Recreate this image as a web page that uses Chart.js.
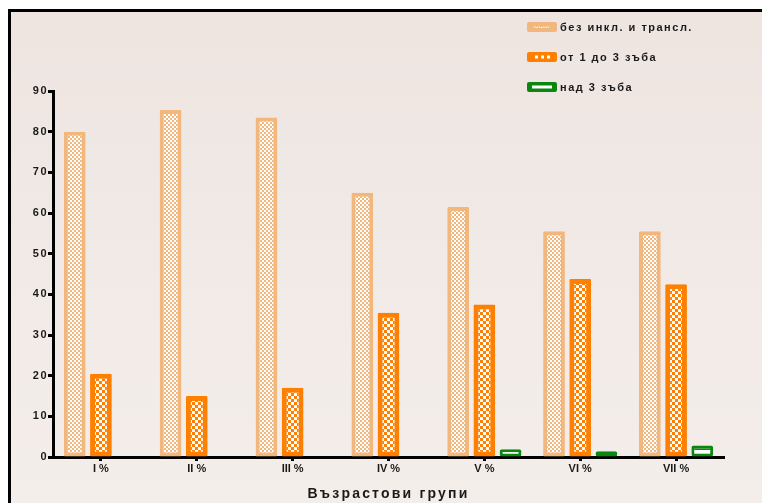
<!DOCTYPE html>
<html>
<head>
<meta charset="utf-8">
<script src="https://cdn.jsdelivr.net/npm/chart.js@4"></script>
<style>
  html, body { margin: 0; padding: 0; background: #fff; }
  #frame {
    position: absolute; left: 8px; top: 9px; width: 753px; height: 494px;
    border-left: 3px solid #000; border-top: 3px solid #000;
    background: linear-gradient(#eee5e1, #f4eeea);
  }
  #wrap { position: absolute; left: 0; top: 0; width: 762px; height: 503px; }
</style>
</head>
<body>
<div id="frame"></div>
<div id="wrap"><canvas id="chart"></canvas></div>
<script>
var categories = ['I %', 'II %', 'III %', 'IV %', 'V %', 'VI %', 'VII %'];
var seriesNames = ['без инкл. и трансл.', 'от 1 до 3 зъба', 'над 3 зъба'];
var bezIncl = [80, 85.3, 83.5, 65, 61.5, 55.5, 55.5];
var ot1do3 = [20.5, 15, 17, 35.5, 37.5, 43.8, 42.5];
var nad3 = [0, 0, 0, 0, 1.9, 1.4, 2.8];
var yTicks = [0, 10, 20, 30, 40, 50, 60, 70, 80, 90];

var peach = '#f2b77c';
var orange = '#ff7f00';
var green = '#0b870f';
var fontFamily = '"Liberation Sans", Arial, sans-serif';

// fill patterns for the bars
function checker(color, size) {
  var c = document.createElement('canvas');
  c.width = size * 2; c.height = size * 2;
  var g = c.getContext('2d');
  g.fillStyle = '#fff';
  g.fillRect(0, 0, size * 2, size * 2);
  g.fillStyle = color;
  g.fillRect(0, 0, size, size);
  g.fillRect(size, size, size, size);
  return g.createPattern(c, 'repeat');
}

function stripes(color) {
  var c = document.createElement('canvas');
  c.width = 4; c.height = 6;
  var g = c.getContext('2d');
  g.fillStyle = '#fff';
  g.fillRect(0, 0, 4, 6);
  g.fillStyle = color;
  g.fillRect(0, 4, 4, 2);
  return g.createPattern(c, 'repeat');
}

var ctx = document.getElementById('chart').getContext('2d');

// letter spacing differs between the y labels, x labels and the axis title
function withSpacing(fn, sp) {
  return function () {
    var prev = this.ctx.letterSpacing;
    this.ctx.letterSpacing = sp;
    var r = fn.apply(this, arguments);
    this.ctx.letterSpacing = prev;
    return r;
  };
}

var spacing = {
  id: 'spacing',
  beforeLayout: function (chart) { chart.ctx.letterSpacing = '0px'; },
  afterLayout: function (chart) {
    var x = chart.scales.x, y = chart.scales.y;
    var proto = Object.getPrototypeOf(x);
    x.drawLabels = withSpacing(proto.drawLabels, '0px');
    x.drawTitle = withSpacing(proto.drawTitle, '2.2px');
    y.drawLabels = withSpacing(Object.getPrototypeOf(y).drawLabels, '1.5px');
  }
};

// vertical legend in the top right corner
var sideLegend = {
  id: 'sideLegend',
  afterDraw: function (chart) {
    var c = chart.ctx;
    var rows = [27, 57, 87];
    c.save();
    c.letterSpacing = '1.5px';
    chart.data.datasets.forEach(function (ds, i) {
      var y = rows[i];
      var x = 527;
      c.fillStyle = ds.borderColor;
      c.beginPath();
      c.roundRect(x, y - 5, 30, 10, 2);
      c.fill();
      c.fillStyle = '#fff';
      if (i === 0) {
        for (var k = 0; k < 7; k++) c.fillRect(x + 7 + k * 2.3, y - 0.5 + (k % 2 ? 0.5 : 0), 1.5, 1);
      } else if (i === 1) {
        c.fillRect(x + 8, y - 1.5, 3, 3);
        c.fillRect(x + 14, y - 1.5, 3, 3);
        c.fillRect(x + 20, y - 1.5, 3, 3);
      } else {
        c.fillRect(x + 5, y - 1.5, 20, 3);
      }
      c.fillStyle = '#1a1a1a';
      c.font = 'bold 11px ' + fontFamily;
      c.textBaseline = 'middle';
      c.fillText(ds.label, 560, y + 0.5);
    });
    c.restore();
  }
};

new Chart(ctx, {
  type: 'bar',
  data: {
    labels: categories,
    datasets: [
      { label: seriesNames[0], data: bezIncl, backgroundColor: checker(peach, 2), borderColor: peach, borderWidth: 4, borderSkipped: false, borderRadius: 1 },
      { label: seriesNames[1], data: ot1do3, backgroundColor: checker(orange, 3), borderColor: orange, borderWidth: 5, borderSkipped: false, borderRadius: 1 },
      { label: seriesNames[2], data: nad3, backgroundColor: stripes(green), borderColor: green, borderWidth: 3, borderSkipped: false, borderRadius: 2 }
    ]
  },
  options: {
    responsive: true,
    maintainAspectRatio: false,
    animation: false,
    layout: { padding: { top: 91, right: 38, left: 0, bottom: 0 } },
    datasets: { bar: { categoryPercentage: 0.82, barPercentage: 0.83 } },
    plugins: { legend: { display: false }, tooltip: { enabled: false } },
    scales: {
      x: {
        offset: true,
        afterFit: function (s) { s.height = 46; },
        border: { display: true, width: 3, color: '#000' },
        grid: { display: true, offset: false, drawOnChartArea: false, drawTicks: true, tickLength: 4, tickWidth: 3, tickColor: '#000' },
        ticks: { color: '#1a1a1a', font: { family: fontFamily, size: 11, weight: 'bold' }, padding: 1 },
        title: { display: true, text: 'Възрастови групи', color: '#1a1a1a', font: { family: fontFamily, size: 14, weight: 'bold' }, padding: { top: 6, bottom: 0 } }
      },
      y: {
        min: 0,
        max: 90,
        afterFit: function (s) { s.width = 53; },
        afterBuildTicks: function (s) { s.ticks = yTicks.map(function (v) { return { value: v }; }); },
        border: { display: true, width: 3, color: '#000' },
        grid: { display: true, drawOnChartArea: false, drawTicks: true, tickLength: 5, tickWidth: 3, tickColor: '#000' },
        ticks: { color: '#1a1a1a', font: { family: fontFamily, size: 11, weight: 'bold' }, padding: 0 }
      }
    }
  },
  plugins: [spacing, sideLegend]
});
</script>
</body>
</html>
